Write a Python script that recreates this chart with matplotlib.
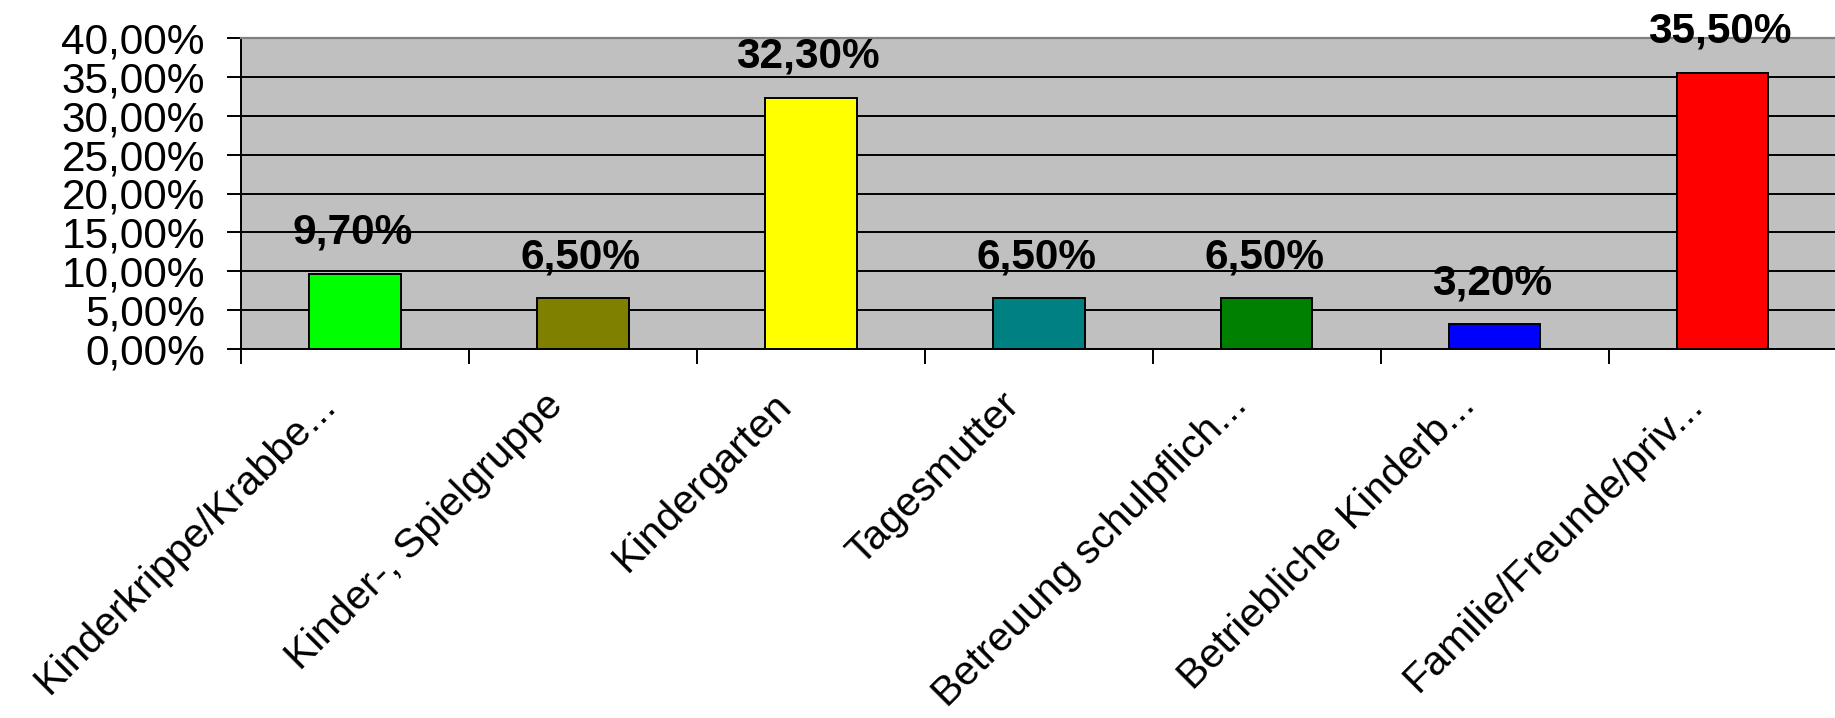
import matplotlib
matplotlib.use("Agg")
import matplotlib.pyplot as plt
import matplotlib.transforms as mtransforms

plt.rcParams['font.family'] = ['Liberation Sans', 'DejaVu Sans']

categories = ["Kinderkrippe/Krabbe...", "Kinder-, Spielgruppe", "Kindergarten",
              "Tagesmutter", "Betreuung schulpflich...", "Betriebliche Kinderb...",
              "Familie/Freunde/priv..."]
values = [0.097, 0.065, 0.323, 0.065, 0.065, 0.032, 0.355]
value_labels = ["9,70%", "6,50%", "32,30%", "6,50%", "6,50%", "3,20%", "35,50%"]
colors = ["#00FF00", "#808000", "#FFFF00", "#008080", "#008000", "#0000FF", "#FF0000"]
yticks = [0.0, 0.05, 0.10, 0.15, 0.20, 0.25, 0.30, 0.35, 0.40]
ytick_labels = ["0,00%", "5,00%", "10,00%", "15,00%", "20,00%", "25,00%",
                "30,00%", "35,00%", "40,00%"]

W, H, DPI = 1835, 718, 100
fig = plt.figure(figsize=(W / DPI, H / DPI), dpi=DPI)
ax = fig.add_axes([241 / W, 1 - 349 / H, 1 - 241 / W + 0.001, (349 - 38) / H])
ax.set_facecolor("#C0C0C0")

x = list(range(len(categories)))
ax.bar(x, values, width=0.40, color=colors, edgecolor="black", linewidth=1.4, zorder=3)

ax.set_xlim(-0.5, len(categories) - 0.5)
ax.set_ylim(0, 0.40)

ax.set_yticks(yticks)
ax.set_yticklabels(ytick_labels, fontsize=30.5)
ax.yaxis.grid(True, color="black", linewidth=1.4, zorder=1)
ax.set_axisbelow(True)

ax.set_xticks([i - 0.5 for i in range(len(categories) + 1)])
ax.set_xticklabels([])
ax.tick_params(axis="x", direction="out", length=11, width=1.4, color="black")
ax.tick_params(axis="y", direction="out", length=10, width=1.4, color="black", pad=16)

for side in ["left", "bottom"]:
    ax.spines[side].set_color("black")
    ax.spines[side].set_linewidth(1.4)
ax.spines["top"].set_color("#808080")
ax.spines["top"].set_linewidth(1.6)
ax.spines["right"].set_visible(False)

for xi, v, lab in zip(x, values, value_labels):
    ax.annotate(lab, (xi, v), xytext=(-2, 21.6), textcoords="offset points",
                ha="center", va="baseline", fontsize=30.5, fontweight="bold",
                annotation_clip=False)

offset = mtransforms.ScaledTranslation(-18 / DPI, -58 / DPI, fig.dpi_scale_trans)
trans = ax.get_xaxis_transform() + offset
for xi, lab in zip(x, categories):
    ax.text(xi, 0, lab, transform=trans, rotation=45, rotation_mode="anchor",
            ha="right", va="baseline", fontsize=29.5)

fig.savefig("out.png", dpi=DPI)
